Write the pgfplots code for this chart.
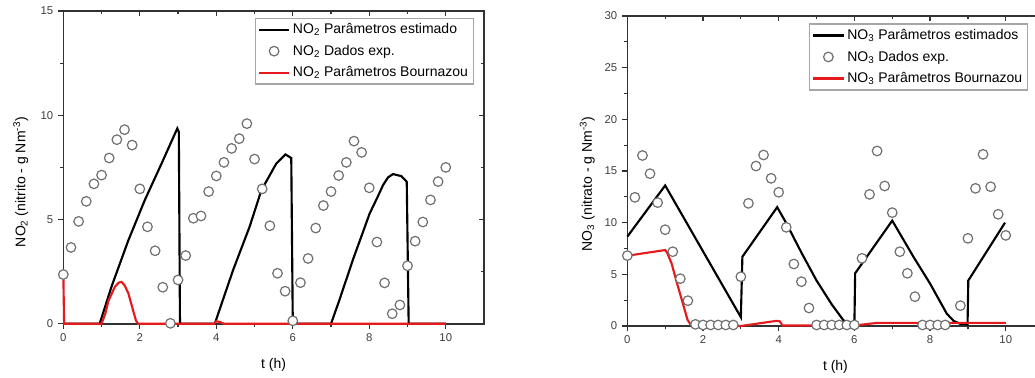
\documentclass[border=0pt]{standalone}
\usepackage{pgfplots}
\pgfplotsset{compat=1.18}
\usepackage{fontspec}
\setmainfont{Liberation Sans}
\definecolor{axgray}{RGB}{50,50,50}
\definecolor{axgrayb}{RGB}{52,52,52}
\definecolor{mkgray}{HTML}{707070}
\definecolor{myred}{HTML}{E41A1C}

\pgfplotsset{
  base/.style={scale only axis, anchor=south west, xmin=0, xmax=11,
    xtick={0,2,...,10}, minor x tick num=1, minor y tick num=1,
    major tick length=4pt, minor tick length=2.5pt},
  main/.style={base, tick align=outside, xtick pos=left, ytick pos=left,
    axis line style={axgray, line width=1.2pt},
    tick style={axgray, line width=0.9pt},
    tick label style={font=\fontsize{8.5}{10}\selectfont, text=black!75},
    /pgf/number format/assume math mode=true,
    label style={font=\fontsize{10.5}{12}\selectfont},
    xlabel={t (h)}, clip=false,
    legend cell align=left,
    legend image code/.code={\draw[mark repeat=2,mark phase=2,##1] plot coordinates {(0cm,0cm) (0.4cm,0cm) (0.8cm,0cm)};},
    legend style={draw=gray!70, line width=0.9pt, fill=white,
      font=\fontsize{10.5}{12}\selectfont, row sep=3pt, inner sep=2pt,
      anchor=north east}},
  mirror/.style={base, tick align=inside, xtick pos=right, ytick pos=right,
    axis line style={axgrayb, line width=1.2pt},
    tick style={axgrayb, line width=0.9pt},
    xticklabels={}, yticklabels={}},
  est/.style={black, line width=1.6pt},
  expd/.style={only marks, mark=*, mark size=3.6pt,
    mark options={draw=mkgray, fill=white, line width=0.9pt}},
  bou/.style={myred, line width=1.6pt},
}

\pgfplotstableread{
x y
0 2.36
0.2 3.66
0.4 4.91
0.6 5.87
0.8 6.71
1.0 7.13
1.2 7.95
1.4 8.83
1.6 9.31
1.8 8.57
2.0 6.47
2.2 4.65
2.4 3.50
2.6 1.75
2.8 0.02
3.0 2.10
3.2 3.27
3.4 5.06
3.6 5.17
3.8 6.34
4.0 7.09
4.2 7.74
4.4 8.41
4.6 8.88
4.8 9.60
5.0 7.90
5.2 6.47
5.4 4.70
5.6 2.42
5.8 1.56
6.0 0.14
6.2 1.97
6.4 3.13
6.6 4.59
6.8 5.67
7.0 6.34
7.2 7.11
7.4 7.74
7.6 8.76
7.8 8.22
8.0 6.52
8.2 3.92
8.4 1.96
8.6 0.48
8.8 0.90
9.0 2.78
9.2 3.96
9.4 4.88
9.6 5.94
9.8 6.82
10.0 7.50
}\notwoexp

\pgfplotstableread{
x y
0 0
0.95 0
1.26 1.78
1.70 4.00
2.13 5.93
2.57 7.69
2.98 9.37
3.02 9.20
3.05 0
3.96 0
4.44 2.58
4.87 4.65
5.18 6.41
5.57 7.69
5.81 8.12
5.96 7.95
6.00 0
7.00 0
7.22 1.14
7.57 3.06
7.79 4.17
8.01 5.29
8.22 6.09
8.36 6.65
8.49 7.02
8.62 7.18
8.84 7.08
8.98 6.81
9.03 0
10 0
}\notwoest

\pgfplotstableread{
x y
0 2.4
0.02 0
1.0 0
1.1 0.5
1.18 1.1
1.35 1.78
1.45 1.97
1.52 2.01
1.6 1.85
1.7 1.46
1.8 0.8
1.9 0.15
1.95 0
3.95 0
4.0 0.12
4.1 0.08
4.2 0
10 0
}\notwobou

\pgfplotstableread{
x y
0 6.81
0.2 12.45
0.4 16.5
0.6 14.74
0.8 11.94
1.0 9.32
1.2 7.19
1.4 4.58
1.6 2.45
1.8 0.16
2.0 0.1
2.2 0.1
2.4 0.1
2.6 0.1
2.8 0.1
3.0 4.77
3.2 11.87
3.4 15.48
3.6 16.55
3.8 14.29
4.0 12.94
4.2 9.55
4.4 6.0
4.6 4.29
4.8 1.74
5.0 0.1
5.2 0.1
5.4 0.1
5.6 0.1
5.8 0.1
6.0 0.1
6.2 6.55
6.4 12.74
6.6 16.94
6.8 13.55
7.0 10.97
7.2 7.19
7.4 5.10
7.6 2.84
7.8 0.1
8.0 0.1
8.2 0.1
8.4 0.1
8.8 1.97
9.0 8.48
9.2 13.32
9.4 16.61
9.6 13.48
9.8 10.81
10.0 8.77
}\nothreeexp

\pgfplotstableread{
x y
0 8.65
1.0 13.6
3.0 0.85
3.04 6.7
3.96 11.5
4.2 9.95
4.6 7.1
5.0 4.4
5.4 2.1
5.7 0.6
5.85 0.15
6.0 0.1
6.02 5.1
7.0 10.2
7.56 6.7
8.0 4.1
8.44 1.2
8.62 0.5
8.8 0.2
8.99 0.15
9.01 4.4
9.98 10.0
}\nothreeest

\pgfplotstableread{
x y
0 6.8
1.0 7.35
1.05 7.1
1.17 6.05
1.3 4.3
1.45 2.4
1.59 0.6
1.68 0.1
1.8 0.05
3.0 0.0
3.95 0.5
4.03 0.45
4.1 0.05
6.0 0.05
6.6 0.3
10 0.3
}\nothreebou

\begin{document}
\begin{tikzpicture}
\useasboundingbox (0,0) rectangle (776.25pt,283.5pt);
% ---------- left: NO2 ----------
\begin{axis}[mirror, at={(47.5pt,40.7pt)}, width=315.5pt, height=234.5pt,
  ymin=0, ymax=15, ytick={0,5,10,15}]
\end{axis}
\begin{axis}[main, at={(47.5pt,40.7pt)}, width=315.5pt, height=234.5pt,
  ymin=0, ymax=15, ytick={0,5,10,15},
  ylabel={NO\textsubscript{2} (nitrito - g Nm\textsuperscript{-3})},
  xlabel style={anchor=center, at={(axis description cs:0.5,-0.132)}},
  ylabel style={anchor=center, at={(axis description cs:-0.101,0.453)}},
  legend style={at={(0.976,0.979)}}]
\addplot[est] table {\notwoest};
\addlegendentry{NO\textsubscript{2} Parâmetros estimado}
\addplot[expd] table {\notwoexp};
\addlegendentry{NO\textsubscript{2} Dados exp.}
\addplot[bou] table {\notwobou};
\addlegendentry{NO\textsubscript{2} Parâmetros Bournazou}
\end{axis}
% ---------- right: NO3 ----------
\begin{axis}[mirror, at={(470.5pt,39pt)}, width=312.2pt, height=232.5pt,
  ymin=0, ymax=30, ytick={0,5,...,30}]
\end{axis}
\begin{axis}[main, at={(470.5pt,39pt)}, width=312.2pt, height=232.5pt,
  ymin=0, ymax=30, ytick={0,5,...,30},
  ylabel={NO\textsubscript{3} (nitrato - g Nm\textsuperscript{-3})},
  xlabel style={anchor=center, at={(axis description cs:0.5,-0.133)}},
  ylabel style={anchor=center, at={(axis description cs:-0.096,0.458)}},
  legend style={at={(0.963,0.976)}}]
\addplot[est] table {\nothreeest};
\addlegendentry{NO\textsubscript{3} Parâmetros estimados}
\addplot[expd] table {\nothreeexp};
\addlegendentry{NO\textsubscript{3} Dados exp.}
\addplot[bou] table {\nothreebou};
\addlegendentry{NO\textsubscript{3} Parâmetros Bournazou}
\end{axis}
\end{tikzpicture}
\end{document}
